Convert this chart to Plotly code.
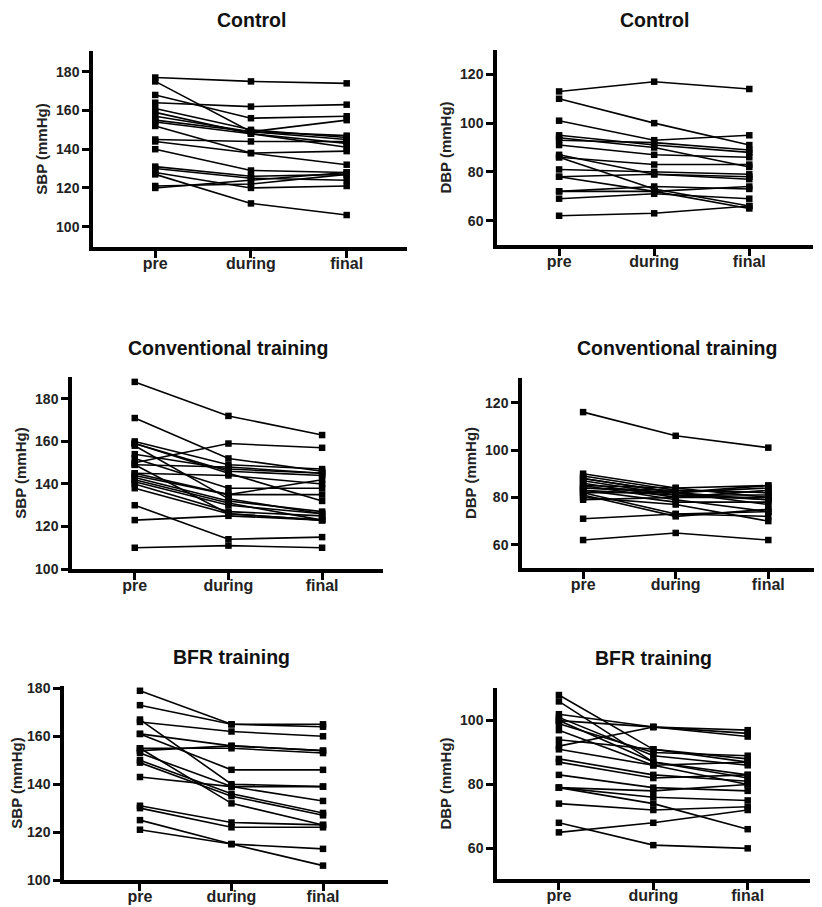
import plotly.graph_objects as go

# the page body has an 8px margin, so the figure is drawn 8px in from the top-left
PAGE_W, PAGE_H, OFF = 822, 907, 8
W, H = PAGE_W - OFF, PAGE_H - OFF
stages = ["pre", "during", "final"]

# ---------------- data (mmHg) ----------------
control_sbp_pre    = [177,175,168,164,161,159,157,155,154,152,145,144,140,131,130,127,128,120,121]
control_sbp_during = [175,149,156,162,150,148,149,149,148,138,144,138,129,126,125,112,120,124,122]
control_sbp_final  = [174,145,157,163,146,141,147,155,143,132,144,139,128,127,124,106,121,128,127]

control_dbp_pre    = [113,110,101,95,94,93,91,87,86,81,78,78,72,72,69,62,86]
control_dbp_during = [117,100,93,91,90,92,87,79,83,80,72,79,74,72,71,63,73]
control_dbp_final  = [114,91,95,88,82,89,86,77,83,79,65,78,73,74,69,66,66]

conv_sbp_pre    = [188,171,160,159,159,158,154,152,150,149,149,145,144,143,142,141,140,138,130,123,110,145]
conv_sbp_during = [172,152,149,146,145,133,147,138,159,148,126,144,135,132,131,130,127,126,114,125,111,135]
conv_sbp_final  = [163,146,147,144,132,126,145,138,157,145,123,140,135,127,123,126,125,123,115,123,110,142]

conv_dbp_pre    = [116,90,89,88,87,86,85,85,84,83,83,82,81,80,79,82,71,62,88,84]
conv_dbp_during = [106,84,83,82,81,80,84,79,82,78,81,73,72,77,80,82,73,65,82,83]
conv_dbp_final  = [101,85,82,84,79,83,80,74,85,78,81,72,75,70,80,77,74,62,79,82]

bfr_sbp_pre    = [179,173,167,166,161,161,155,155,154,153,150,149,143,131,130,125,121]
bfr_sbp_during = [165,165,140,162,156,146,155,132,156,139,136,135,139,124,122,115,115]
bfr_sbp_final  = [165,164,139,160,154,146,153,123,154,133,128,127,139,123,122,106,113]

bfr_dbp_pre    = [108,106,102,101,100,100,99,97,94,92,91,88,87,83,79,79,74,68,65,79]
bfr_dbp_during = [91,87,98,89,87,98,90,86,91,98,86,83,82,79,78,74,72,61,68,76]
bfr_dbp_final  = [87,83,97,86,82,96,89,80,88,95,87,81,83,78,80,66,73,60,72,75]

sbp_ticks = [100, 120, 140, 160, 180]
dbp_ticks = [60, 80, 100, 120]
bfr_dbp_ticks = [60, 80, 100]

# ---------------- panel layout (page pixels) ----------------
panels = [
    dict(title="Control", ylab="SBP (mmHg)",
         data=(control_sbp_pre, control_sbp_during, control_sbp_final),
         L=93, R=407, T=51, B=247, xr=[-0.65, 2.63], yr=[89.5, 190.7],
         tv=sbp_ticks, tx=251, ty=20),
    dict(title="Control", ylab="DBP (mmHg)",
         data=(control_dbp_pre, control_dbp_during, control_dbp_final),
         L=497, R=813, T=50, B=245, xr=[-0.653, 2.67], yr=[50, 130],
         tv=dbp_ticks, tx=654, ty=20),
    dict(title="Conventional training", ylab="SBP (mmHg)",
         data=(conv_sbp_pre, conv_sbp_during, conv_sbp_final),
         L=72, R=383, T=377, B=569, xr=[-0.67, 2.65], yr=[100, 190.3],
         tv=sbp_ticks, tx=228, ty=348),
    dict(title="Conventional training", ylab="DBP (mmHg)",
         data=(conv_dbp_pre, conv_dbp_during, conv_dbp_final),
         L=522, R=822, T=378, B=568, xr=[-0.66, 2.58], yr=[50.2, 130.4],
         tv=dbp_ticks, tx=677, ty=348),
    dict(title="BFR training", ylab="SBP (mmHg)",
         data=(bfr_sbp_pre, bfr_sbp_during, bfr_sbp_final),
         L=64, R=388, T=686, B=880, xr=[-0.83, 2.71], yr=[100, 181],
         tv=sbp_ticks, tx=231, ty=657),
    dict(title="BFR training", ylab="DBP (mmHg)",
         data=(bfr_dbp_pre, bfr_dbp_during, bfr_dbp_final),
         L=497, R=810, T=688, B=879, xr=[-0.656, 2.66], yr=[50.4, 110.2],
         tv=bfr_dbp_ticks, tx=653, ty=658),
]

FONT = "Liberation Sans, Arial, Helvetica, sans-serif"
fig = go.Figure()
annotations = []
layout = {}

def fx(px):
    return (px - OFF) / W

def fy(py):
    return 1 - (py - OFF) / H

for i, p in enumerate(panels, start=1):
    sfx = "" if i == 1 else str(i)
    pre, dur, fin = p["data"]
    for a, b, c in zip(pre, dur, fin):
        fig.add_trace(go.Scatter(
            x=stages, y=[a, b, c], mode="lines+markers",
            line=dict(color="black", width=1.6),
            marker=dict(symbol="square", size=6.5, color="black"),
            showlegend=False, hoverinfo="skip",
            xaxis="x" + sfx, yaxis="y" + sfx))
    layout["xaxis" + sfx] = dict(
        domain=[fx(p["L"]), min(1, fx(p["R"]))], anchor="y" + sfx,
        type="category", categoryorder="array", categoryarray=stages,
        range=p["xr"], showgrid=False, zeroline=False, automargin=False,
        showline=True, linewidth=3.5, linecolor="black",
        ticks="outside", ticklen=7, tickwidth=2.5, tickcolor="black",
        ticklabelstandoff=-8,
        tickfont=dict(family=FONT, size=16, color="#222", weight="bold"),
        fixedrange=True)
    layout["yaxis" + sfx] = dict(
        domain=[fy(p["B"]), fy(p["T"])], anchor="x" + sfx,
        range=p["yr"], tickvals=p["tv"], showgrid=False, zeroline=False,
        automargin=False,
        showline=True, linewidth=3.5, linecolor="black",
        ticks="outside", ticklen=7, tickwidth=2.5, tickcolor="black",
        tickfont=dict(family=FONT, size=14, color="#222", weight="bold"),
        title=dict(text=p["ylab"], standoff=6,
                   font=dict(family=FONT, size=15, color="#222", weight="bold")),
        fixedrange=True)
    annotations.append(dict(
        text=p["title"], xref="paper", yref="paper",
        x=fx(p["tx"]), y=fy(p["ty"]), xanchor="center", yanchor="middle",
        showarrow=False,
        font=dict(family=FONT, size=19.5, color="#111", weight="bold")))

fig.update_layout(
    template="none",
    width=W, height=H, margin=dict(l=0, r=0, t=0, b=0, pad=0),
    paper_bgcolor="white", plot_bgcolor="white",
    annotations=annotations, **layout)

fig.write_html("out.html")
